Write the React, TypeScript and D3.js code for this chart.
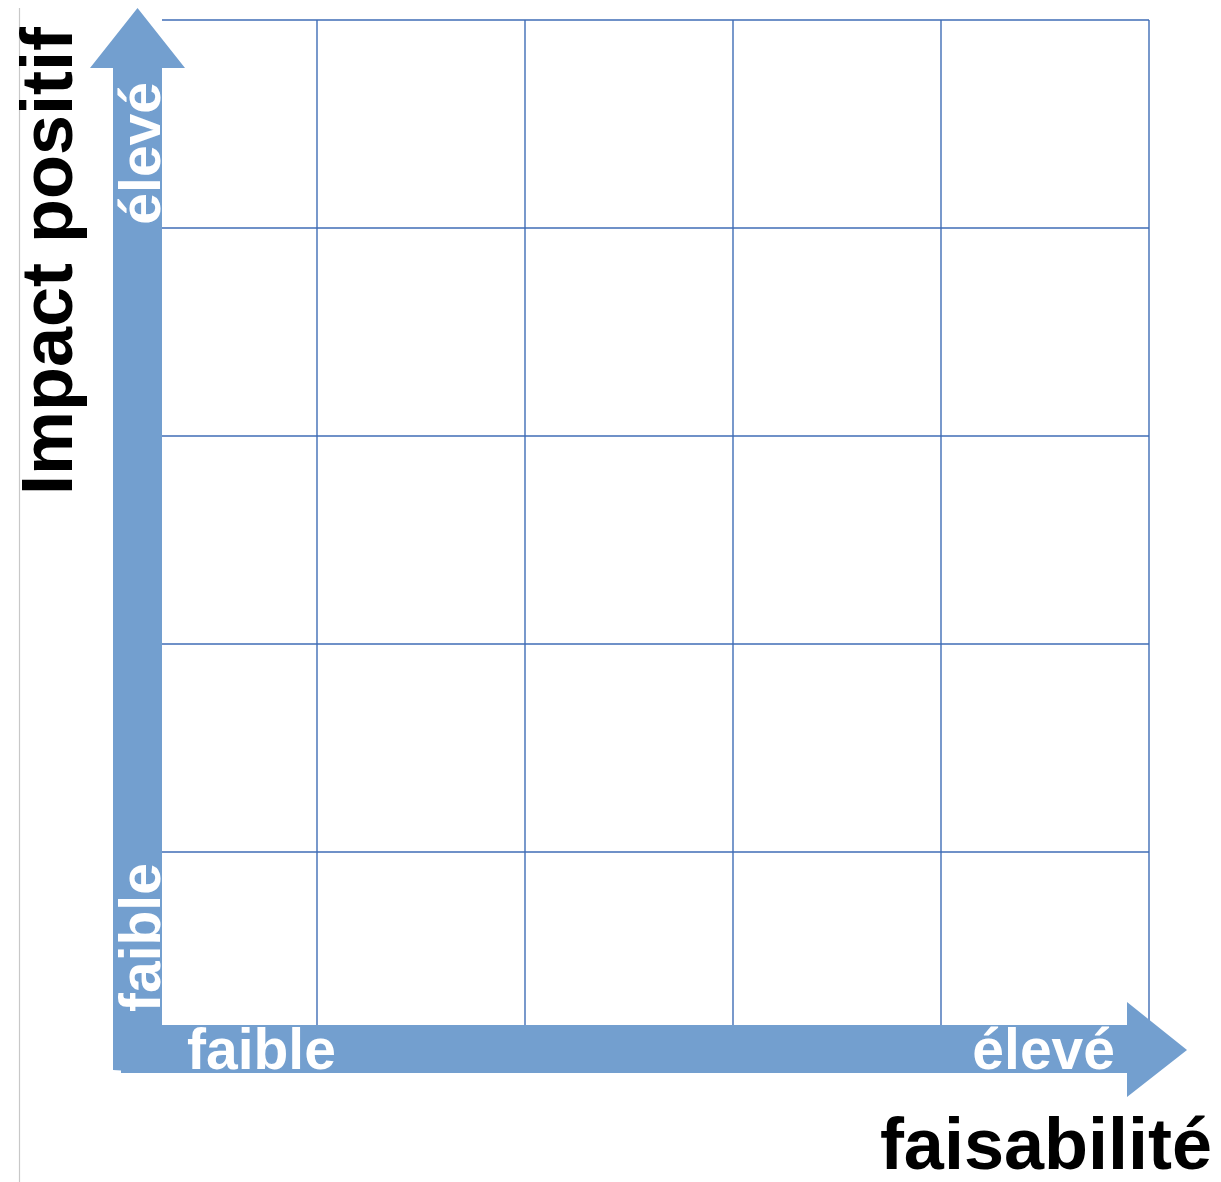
import { useEffect, useRef } from "react"
import * as d3 from "d3"

// grid: 5 x 5 cells
const gridCols = [0, 1, 2, 3, 4, 5]
const gridRows = [0, 1, 2, 3, 4, 5]
const xAxisTitle = "faisabilité"
const yAxisTitle = "Impact positif"
const lowLabel = "faible"
const highLabel = "élevé"

export default function App() {
  const svgRef = useRef(null)

  useEffect(() => {
    document.body.style.margin = "0"
    if (!svgRef.current) return
    const svg = d3.select(svgRef.current)
    svg.selectAll("*").remove()

    const width = 1221
    const height = 1182
    const arrowColor = "#739fcf"
    const gridColor = "#3f6db6"
    const font = "'Liberation Sans', Arial, sans-serif"

    const x = d3.scaleLinear().domain([0, 5]).range([109, 1149])
    const y = d3.scaleLinear().domain([0, 5]).range([1060, 20])

    const shaftL = 113, shaftR = 162
    const shaftT = 1025, shaftB = 1073

    // faint left rule
    svg.append("line")
      .attr("x1", 19.5).attr("x2", 19.5)
      .attr("y1", 8).attr("y2", height)
      .attr("stroke", "#c8c8c8").attr("stroke-width", 1.2)

    // grid, hidden under the arrows on the left and bottom
    svg.append("clipPath").attr("id", "gridclip")
      .append("rect")
      .attr("x", shaftR).attr("y", 0)
      .attr("width", width - shaftR).attr("height", shaftT)
    const g = svg.append("g").attr("clip-path", "url(#gridclip)")
    g.selectAll("line.v")
      .data(gridCols)
      .enter()
      .append("line")
      .attr("x1", (d) => x(d)).attr("x2", (d) => x(d))
      .attr("y1", y(5)).attr("y2", y(0))
      .attr("stroke", gridColor).attr("stroke-width", 1.4)
    g.selectAll("line.h")
      .data(gridRows)
      .enter()
      .append("line")
      .attr("x1", x(0)).attr("x2", x(5))
      .attr("y1", (d) => y(d)).attr("y2", (d) => y(d))
      .attr("stroke", gridColor).attr("stroke-width", 1.4)

    // arrows
    const vArrow = d3.path()
    vArrow.moveTo(shaftL, shaftB - 3)
    vArrow.lineTo(shaftL, 68)
    vArrow.lineTo(90, 68)
    vArrow.lineTo(137.5, 8)
    vArrow.lineTo(185, 68)
    vArrow.lineTo(shaftR, 68)
    vArrow.lineTo(shaftR, shaftB)
    vArrow.closePath()
    svg.append("path").attr("d", vArrow.toString()).attr("fill", arrowColor)

    const hArrow = d3.path()
    hArrow.moveTo(shaftL + 8, shaftT)
    hArrow.lineTo(1127, shaftT)
    hArrow.lineTo(1127, 1002)
    hArrow.lineTo(1187, 1050)
    hArrow.lineTo(1127, 1097)
    hArrow.lineTo(1127, shaftB)
    hArrow.lineTo(shaftL + 8, shaftB)
    hArrow.closePath()
    svg.append("path").attr("d", hArrow.toString()).attr("fill", arrowColor)

    // labels on arrows
    const lbl = (tx, ty, rot, text, anchor) =>
      svg.append("text")
        .attr("transform", `translate(${tx},${ty}) rotate(${rot})`)
        .attr("text-anchor", anchor)
        .attr("font-family", font)
        .attr("font-weight", "bold")
        .attr("font-size", "57px")
        .attr("fill", "white")
        .text(text)

    lbl(187, 1069, 0, lowLabel, "start")
    lbl(1115, 1069, 0, highLabel, "end")
    lbl(160, 1012, -90, lowLabel, "start")
    lbl(160, 82, -90, highLabel, "end")

    // axis titles
    svg.append("text")
      .attr("transform", "translate(72,495) rotate(-90)")
      .attr("text-anchor", "start")
      .attr("font-family", font)
      .attr("font-weight", "bold")
      .attr("font-size", "72px")
      .attr("fill", "black")
      .text(yAxisTitle)

    svg.append("text")
      .attr("x", 1212)
      .attr("y", 1169)
      .attr("text-anchor", "end")
      .attr("font-family", font)
      .attr("font-weight", "bold")
      .attr("font-size", "72px")
      .attr("fill", "black")
      .text(xAxisTitle)

    svg.attr("width", width).attr("height", height).attr("viewBox", [0, 0, width, height])
  }, [])

  return (
    <div style={{ width: 1221, height: 1182, background: "white" }}>
      <svg ref={svgRef} style={{ display: "block" }}></svg>
    </div>
  )
}
